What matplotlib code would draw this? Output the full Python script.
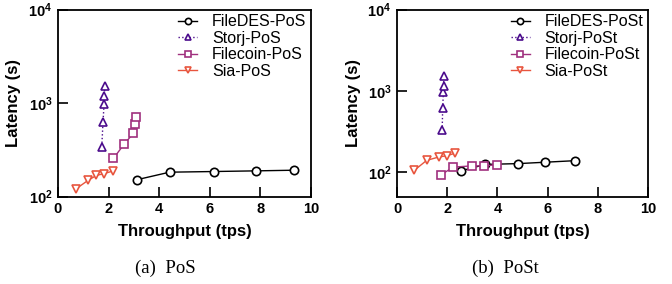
import matplotlib
matplotlib.use("Agg")
import matplotlib.pyplot as plt

plt.rcParams["mathtext.fontset"] = "custom"
plt.rcParams["mathtext.rm"] = "Liberation Sans"
plt.rcParams["mathtext.bf"] = "Liberation Sans:bold"

# ---- data: panel (a) PoS ----
filedes_pos_x = [3.11, 4.41, 6.16, 7.81, 9.31]
filedes_pos_y = [151, 182, 185, 188, 191]
storj_pos_x = [1.73, 1.78, 1.82, 1.83, 1.85]
storj_pos_y = [342, 632, 968, 1178, 1531]
filecoin_pos_x = [2.19, 2.62, 2.98, 3.05, 3.09]
filecoin_pos_y = [255, 365, 474, 592, 714]
sia_pos_x = [0.70, 1.19, 1.52, 1.83, 2.19]
sia_pos_y = [120, 149, 168, 176, 188]

# ---- data: panel (b) PoSt ----
filedes_post_x = [2.53, 3.51, 4.84, 5.89, 7.10]
filedes_post_y = [103, 124, 127, 132, 138]
storj_post_x = [1.80, 1.82, 1.85, 1.86, 1.86]
storj_post_y = [326, 621, 968, 1136, 1510]
filecoin_post_x = [1.76, 2.25, 2.97, 3.46, 3.99]
filecoin_post_y = [93, 115, 119, 119, 123]
sia_post_x = [0.69, 1.18, 1.66, 1.99, 2.33]
sia_post_y = [105, 139, 153, 159, 171]

names_a = ["FileDES-PoS", "Storj-PoS", "Filecoin-PoS", "Sia-PoS"]
names_b = ["FileDES-PoSt", "Storj-PoSt", "Filecoin-PoSt", "Sia-PoSt"]
captions = ["(a)  PoS", "(b)  PoSt"]
x_ticks = [0, 2, 4, 6, 8, 10]

colors = ["black", "#4B0C8C", "#A0307E", "#E8553E"]
markers = ["o", "^", "s", "v"]
styles = ["-", ":", "-", "-"]

sans = ["Liberation Sans", "DejaVu Sans"]
serif = ["Liberation Serif", "DejaVu Serif"]

fig = plt.figure(figsize=(6.72, 2.84), dpi=100)
ax_a = fig.add_axes([58 / 672, 1 - 196.5 / 284, 253 / 672, 187 / 284])
ax_b = fig.add_axes([397 / 672, 1 - 196.5 / 284, 251 / 672, 187 / 284])

panels = [
    (ax_a, names_a,
     [(filedes_pos_x, filedes_pos_y), (storj_pos_x, storj_pos_y),
      (filecoin_pos_x, filecoin_pos_y), (sia_pos_x, sia_pos_y)],
     (100, 10000), 0.423),
    (ax_b, names_b,
     [(filedes_post_x, filedes_post_y), (storj_post_x, storj_post_y),
      (filecoin_post_x, filecoin_post_y), (sia_post_x, sia_post_y)],
     (50, 10000), 0.43),
]

for i, (ax, names, series, ylim, capx) in enumerate(panels):
    for (xs, ys), name, c, m, ls in zip(series, names, colors, markers, styles):
        ax.plot(xs, ys, linestyle=ls, color=c, marker=m, markersize=6,
                markerfacecolor="white", markeredgecolor=c, markeredgewidth=1.2,
                linewidth=1.0, label=name)
    ax.set_yscale("log")
    ax.set_ylim(*ylim)
    ax.set_xlim(0, 10)
    ax.set_xticks(x_ticks)
    ax.set_yticks([100, 1000, 10000])
    ax.set_yticklabels([r"$\mathbf{10^{2}}$", r"$\mathbf{10^{3}}$", r"$\mathbf{10^{4}}$"])
    ax.minorticks_off()
    ax.tick_params(direction="in", length=7, width=1.2, labelsize=10.5, pad=4)
    for lab in ax.get_xticklabels() + ax.get_yticklabels():
        lab.set_fontweight("bold")
        lab.set_family(sans)
    for s in ax.spines.values():
        s.set_linewidth(1.3)
    ax.set_xlabel("Throughput (tps)", fontsize=12, fontweight="bold", family=sans, labelpad=6)
    ax.set_ylabel("Latency (s)", fontsize=12, fontweight="bold", family=sans)
    ax.yaxis.set_label_coords(-0.145, 0.5)
    ax.legend(loc="upper right", frameon=False, prop={"family": sans, "size": 11.5},
              handlelength=1.2, handletextpad=0.9, labelspacing=0.1,
              borderpad=0.15, borderaxespad=0.15, markerscale=0.75)
    ax.text(capx, -0.385, captions[i], transform=ax.transAxes, ha="center", va="center",
            fontsize=13.5, family=serif)

fig.savefig("out.png", dpi=100)
